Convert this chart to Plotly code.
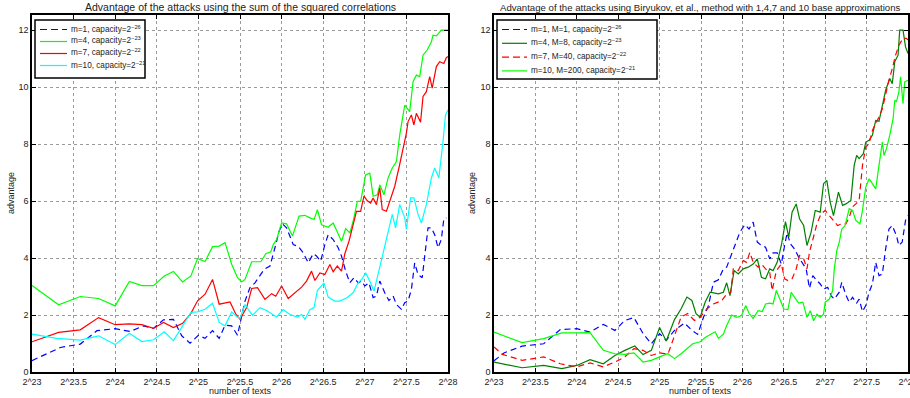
import plotly.graph_objects as go

# ---------------- data (x = log2 of number of texts) ----------------
tick_vals = [23, 23.5, 24, 24.5, 25, 25.5, 26, 26.5, 27, 27.5, 28]
tick_text = ["2^23", "2^23.5", "2^24", "2^24.5", "2^25", "2^25.5", "2^26", "2^26.5", "2^27", "2^27.5", "2^28"]
y_ticks = [0, 2, 4, 6, 8, 10, 12]

# Left panel: sum of squared correlations
L1_x = [23, 23.34, 23.58, 23.78, 24.0, 24.18, 24.34, 24.46, 24.58, 24.7, 24.8, 24.9, 25.0, 25.08, 25.17, 25.25, 25.32, 25.4, 25.47,
        25.56, 25.62, 25.68, 25.79, 25.86, 25.92, 25.97, 26.01, 26.06, 26.14, 26.2, 26.26, 26.32, 26.38, 26.42, 26.47, 26.52, 26.56,
        26.62, 26.68, 26.72, 26.77, 26.82, 26.87, 26.92, 26.96, 27.0, 27.05, 27.1, 27.14, 27.18, 27.24, 27.29, 27.34, 27.38, 27.44,
        27.48, 27.52, 27.56, 27.6, 27.64, 27.69, 27.73, 27.76, 27.8, 27.84, 27.88, 27.92, 27.95, 27.98]
L1_y = [0.4, 0.86, 0.98, 1.45, 1.52, 1.42, 1.62, 1.53, 1.83, 1.85, 1.27, 1.01, 1.29, 1.18, 1.45, 1.18, 1.64, 1.62, 1.29,
        2.49, 2.96, 3.13, 3.6, 3.72, 4.36, 4.94, 5.2, 5.06, 4.47, 4.41, 4.18, 3.83, 4.15, 4.07, 3.89, 4.47, 4.82,
        4.65, 4.36, 4.07, 3.54, 3.13, 3.31, 3.13, 3.19, 3.02, 3.13, 2.61, 2.67, 3.19, 2.78, 2.51, 2.67, 2.37, 2.2,
        2.43, 2.49, 2.9, 3.83, 3.42, 3.31, 4.36, 5.06, 5.06, 4.82, 4.36, 4.65, 5.38, 5.41]

L4_x = [23, 23.32, 23.58, 23.8, 24.0, 24.17, 24.32, 24.46, 24.59, 24.7, 24.81, 24.91, 24.99, 25.08, 25.17, 25.25, 25.32, 25.4, 25.47,
        25.52, 25.56, 25.64, 25.75, 25.81, 25.87, 25.9, 25.94, 26.0, 26.06, 26.13, 26.21, 26.28, 26.34, 26.39, 26.43, 26.48, 26.56,
        26.62, 26.72, 26.77, 26.82, 26.86, 26.91, 26.95, 27.01, 27.06, 27.1, 27.15, 27.18, 27.23, 27.28, 27.33, 27.38, 27.42, 27.48,
        27.54, 27.58, 27.62, 27.66, 27.7, 27.75, 27.8, 27.82, 27.86, 27.92, 28.0]
L4_y = [3.04, 2.36, 2.65, 2.58, 2.32, 3.18, 3.03, 3.03, 3.37, 3.53, 3.16, 3.37, 3.98, 3.88, 4.4, 4.42, 4.54, 3.78, 3.31,
        3.16, 3.25, 3.87, 3.87, 4.15, 4.22, 4.47, 4.65, 5.23, 5.2, 4.77, 5.47, 5.5, 5.41, 5.35, 5.7, 5.17, 5.08,
        5.23, 4.59, 5.03, 4.88, 5.29, 5.99, 5.99, 6.92, 6.98, 6.17, 6.22, 6.57, 6.22, 6.81, 7.16, 7.39, 8.32, 9.37,
        9.14, 10.19, 10.42, 10.37, 11.12, 11.3, 11.59, 11.82, 11.8, 12.0, 12.0]

L7_x = [23, 23.32, 23.58, 23.8, 24.0, 24.17, 24.32, 24.46, 24.58, 24.7, 24.81, 24.91, 24.99, 25.08, 25.17, 25.25, 25.38, 25.45, 25.5,
        25.58, 25.64, 25.71, 25.8, 25.88, 25.93, 26.0, 26.08, 26.14, 26.24, 26.3, 26.36, 26.4, 26.46, 26.52, 26.58, 26.62, 26.67,
        26.72, 26.76, 26.81, 26.86, 26.9, 26.95, 26.99, 27.03, 27.07, 27.1, 27.14, 27.18, 27.21, 27.26, 27.31, 27.36, 27.41, 27.46,
        27.5, 27.52, 27.56, 27.59, 27.62, 27.67, 27.7, 27.74, 27.78, 27.81, 27.86, 27.9, 27.95, 27.98, 28.0]
L7_y = [1.06, 1.39, 1.48, 1.91, 1.66, 1.69, 1.66, 1.53, 1.74, 1.56, 1.71, 2.06, 2.5, 2.73, 3.25, 2.38, 2.46, 2.03, 1.85,
        2.26, 2.93, 2.96, 2.55, 2.75, 2.66, 3.02, 2.58, 2.72, 2.98, 3.19, 3.54, 3.21, 3.48, 3.42, 3.77, 3.52, 3.72,
        3.54, 4.15, 4.59, 5.17, 5.64, 5.64, 6.17, 6.01, 5.93, 6.11, 5.87, 6.46, 5.7, 5.64, 6.05, 6.52, 7.16, 7.86,
        8.38, 8.79, 9.02, 8.67, 9.08, 8.77, 9.67, 9.84, 10.37, 9.96, 10.72, 10.89, 10.83, 11.03, 11.07]

L10_x = [23, 23.3, 23.58, 23.8, 24.0, 24.17, 24.32, 24.46, 24.59, 24.7, 24.81, 24.91, 24.99, 25.08, 25.17, 25.25, 25.32, 25.4, 25.46,
         25.5, 25.56, 25.65, 25.74, 25.82, 25.94, 26.02, 26.1, 26.19, 26.24, 26.28, 26.34, 26.39, 26.43, 26.51, 26.56, 26.64, 26.7,
         26.78, 26.86, 26.92, 26.97, 27.01, 27.06, 27.11, 27.15, 27.2, 27.24, 27.29, 27.33, 27.37, 27.42, 27.48, 27.5, 27.55, 27.59,
         27.64, 27.68, 27.74, 27.8, 27.84, 27.89, 27.94, 27.97, 28.0]
L10_y = [1.33, 1.18, 1.12, 1.27, 0.96, 1.36, 1.07, 1.13, 1.41, 1.1, 1.62, 2.09, 2.11, 2.2, 2.41, 1.74, 1.62, 2.11, 1.95,
         1.88, 2.37, 1.99, 2.26, 2.16, 1.93, 2.19, 2.02, 1.93, 2.02, 1.85, 2.19, 2.26, 2.86, 3.13, 2.63, 2.49, 2.49,
         2.6, 2.78, 3.13, 3.28, 3.48, 3.19, 2.84, 3.31, 3.95, 4.47, 5.0, 5.53, 5.06, 5.88, 5.41, 5.0, 6.11, 6.11,
         5.53, 5.23, 5.88, 6.81, 7.16, 6.81, 8.09, 9.02, 9.2]

# Right panel: Biryukov et al. method
R1_x = [23.0, 23.12, 23.34, 23.6, 23.8, 24.0, 24.16, 24.32, 24.46, 24.58, 24.69, 24.8, 24.9, 25.0, 25.08, 25.18, 25.3, 25.38, 25.46,
        25.53, 25.59, 25.65, 25.71, 25.77, 25.81, 25.85, 25.89, 25.93, 25.97, 26.03, 26.08, 26.13, 26.18, 26.23, 26.28, 26.33, 26.37,
        26.42, 26.47, 26.51, 26.54, 26.58, 26.63, 26.68, 26.73, 26.77, 26.81, 26.85, 26.9, 26.94, 26.98, 27.03, 27.07, 27.11, 27.17,
        27.2, 27.25, 27.29, 27.33, 27.38, 27.41, 27.45, 27.49, 27.53, 27.57, 27.61, 27.65, 27.69, 27.73, 27.77, 27.81, 27.86, 27.89,
        27.93, 27.97, 28.0]
R1_y = [0.39, 0.67, 0.91, 0.99, 1.49, 1.52, 1.4, 1.67, 1.46, 1.81, 1.91, 1.35, 0.99, 1.35, 1.11, 1.46, 1.72, 1.49, 1.32,
        1.92, 2.33, 3.15, 3.24, 3.62, 3.68, 3.99, 4.26, 4.56, 4.91, 5.17, 5.02, 5.26, 4.56, 4.44, 4.38, 3.97, 4.18,
        4.18, 3.79, 4.44, 4.88, 4.5, 4.32, 4.03, 3.79, 3.62, 2.94, 3.38, 3.21, 3.09, 2.91, 2.97, 2.68, 2.56, 2.8,
        3.15, 2.7, 2.45, 2.62, 2.42, 2.56, 2.12, 2.33, 2.8, 3.09, 3.85, 3.38, 3.44, 4.32, 5.02, 5.14, 4.79, 4.44,
        4.56, 5.32, 5.49]

R4_x = [23.0, 23.34, 23.6, 23.82, 24.0, 24.16, 24.32, 24.46, 24.58, 24.7, 24.8, 24.9, 25.0, 25.08, 25.18, 25.26, 25.33, 25.39, 25.44,
        25.49, 25.55, 25.61, 25.71, 25.77, 25.81, 25.85, 25.9, 25.95, 26.01, 26.07, 26.13, 26.18, 26.23, 26.28, 26.33, 26.37, 26.42,
        26.47, 26.52, 26.56, 26.6, 26.65, 26.69, 26.74, 26.78, 26.83, 26.88, 26.94, 26.98, 27.02, 27.06, 27.1, 27.16, 27.21, 27.25,
        27.31, 27.35, 27.38, 27.41, 27.46, 27.49, 27.53, 27.57, 27.61, 27.65, 27.69, 27.73, 27.78, 27.81, 27.84, 27.88, 27.9, 27.94,
        27.97, 28.0]
R4_y = [0.35, 0.15, 0.23, 0.12, 0.23, 0.43, 0.29, 0.58, 0.76, 0.91, 0.61, 0.76, 1.56, 1.09, 1.84, 2.22, 2.63, 2.51, 2.05,
        1.92, 2.45, 2.8, 2.74, 2.8, 3.13, 2.68, 3.56, 3.44, 3.62, 3.68, 3.79, 3.97, 3.32, 3.27, 3.62, 3.56, 3.85,
        4.44, 5.28, 4.73, 5.61, 5.9, 5.38, 5.14, 4.44, 4.91, 5.67, 5.61, 6.61, 6.72, 5.96, 5.49, 6.31, 5.85, 5.9,
        6.02, 7.25, 7.6, 7.49, 7.66, 8.07, 8.13, 8.31, 8.83, 8.8, 9.3, 9.89, 10.3, 10.12, 10.89, 11.12, 12.0, 12.0,
        11.41, 11.18]

R7_x = [23.0, 23.1, 23.34, 23.6, 23.8, 24.0, 24.16, 24.32, 24.46, 24.58, 24.69, 24.8, 24.9, 25.0, 25.1, 25.18, 25.26, 25.34, 25.42,
        25.49, 25.57, 25.65, 25.75, 25.81, 25.86, 25.89, 25.95, 26.01, 26.05, 26.09, 26.13, 26.19, 26.23, 26.28, 26.33, 26.36, 26.41,
        26.47, 26.51, 26.55, 26.6, 26.65, 26.69, 26.74, 26.78, 26.81, 26.85, 26.9, 26.95, 27.0, 27.05, 27.1, 27.15, 27.2, 27.25,
        27.29, 27.33, 27.37, 27.41, 27.45, 27.49, 27.53, 27.57, 27.61, 27.65, 27.69, 27.73, 27.77, 27.81, 27.85, 27.89, 27.94, 27.98,
        28.0]
R7_y = [0.88, 0.62, 0.41, 0.53, 0.29, 0.18, 0.32, 0.18, 0.35, 0.53, 0.82, 0.76, 0.58, 0.67, 0.62, 1.29, 1.93, 2.05, 1.81,
        1.92, 2.21, 2.39, 2.5, 2.74, 2.8, 3.62, 3.56, 3.91, 3.85, 4.2, 3.85, 3.68, 3.79, 3.62, 3.5, 2.86, 3.56,
        3.79, 3.27, 3.21, 3.27, 3.62, 4.09, 3.97, 3.62, 4.2, 4.67, 5.2, 5.55, 5.67, 5.49, 5.32, 5.14, 5.2, 5.2,
        5.43, 5.79, 5.9, 6.02, 7.25, 7.9, 8.01, 8.48, 8.72, 8.95, 9.24, 9.77, 10.24, 10.65, 11.12, 11.47, 11.71, 11.71,
        11.65]

R10_x = [23.0, 23.34, 23.6, 23.82, 24.0, 24.16, 24.32, 24.46, 24.58, 24.69, 24.8, 24.9, 25.0, 25.1, 25.18, 25.26, 25.4, 25.49, 25.55,
         25.61, 25.67, 25.71, 25.77, 25.81, 25.87, 25.93, 25.99, 26.04, 26.08, 26.13, 26.19, 26.24, 26.28, 26.33, 26.37, 26.41, 26.46,
         26.5, 26.55, 26.59, 26.63, 26.68, 26.73, 26.78, 26.82, 26.86, 26.9, 26.94, 26.98, 27.0, 27.05, 27.09, 27.11, 27.14, 27.17,
         27.2, 27.24, 27.29, 27.33, 27.37, 27.42, 27.45, 27.49, 27.53, 27.57, 27.61, 27.65, 27.69, 27.71, 27.74, 27.78, 27.82, 27.84,
         27.86, 27.89, 27.91, 27.94, 27.96, 28.0]
R10_y = [1.4, 1.03, 1.17, 1.37, 1.37, 1.38, 0.76, 0.64, 0.62, 0.67, 0.35, 0.41, 0.53, 0.64, 0.47, 0.64, 0.99, 1.06, 1.21,
         1.3, 1.41, 1.18, 1.33, 1.63, 2.0, 1.92, 1.98, 2.33, 2.06, 1.88, 2.15, 2.12, 2.39, 2.42, 2.39, 2.86, 2.5,
         2.21, 2.19, 2.8, 2.62, 2.42, 2.45, 1.92, 2.15, 1.8, 2.03, 1.92, 2.03, 2.45, 2.56, 2.86, 3.62, 4.26, 4.56,
         5.02, 5.14, 5.73, 5.67, 5.32, 5.2, 5.67, 6.49, 6.78, 6.61, 6.43, 7.25, 8.07, 7.6, 7.84, 8.31, 8.89, 9.54,
         9.48, 9.83, 10.36, 9.42, 10.18, 10.24]

# legend labels and titles
left_names = ["m=1, capacity=2<sup>\u221226</sup>", "m=4, capacity=2<sup>\u221223</sup>",
              "m=7, capacity=2<sup>\u221222</sup>", "m=10, capacity=2<sup>\u221221</sup>"]
right_names = ["m=1, M=1, capacity=2<sup>\u221226</sup>", "m=4, M=8, capacity=2<sup>\u221223</sup>",
               "m=7, M=40, capacity=2<sup>\u221222</sup>", "m=10, M=200, capacity=2<sup>\u221221</sup>"]
left_title = "Advantage of the attacks using the sum of the squared correlations"
right_title = "Advantage of the attacks using Biryukov, et al., method with 1,4,7 and 10 base approximations"
x_title = "number of texts"
y_title = "advantage"

# ---------------- figure ----------------
W, H = 910, 398
FONT = "Liberation Sans, Arial, Helvetica, sans-serif"
TXT = "#222222"
DASH = "6px,4px"
LEG_DASH = "7px,4px"

fig = go.Figure()

left_series = [(L1_x, L1_y, "#0000ff", DASH), (L4_x, L4_y, "#00ff00", "solid"),
               (L7_x, L7_y, "#ff0000", "solid"), (L10_x, L10_y, "#00ffff", "solid")]
right_series = [(R1_x, R1_y, "#0000ff", DASH), (R4_x, R4_y, "#007f00", "solid"),
                (R7_x, R7_y, "#ff0000", DASH), (R10_x, R10_y, "#00ff00", "solid")]

for (xs, ys, c, d), nm in zip(left_series, left_names):
    fig.add_trace(go.Scatter(x=xs, y=ys, mode="lines", name=nm, line=dict(color=c, width=1.2, dash=d),
                             xaxis="x", yaxis="y", showlegend=False))
for (xs, ys, c, d), nm in zip(right_series, right_names):
    fig.add_trace(go.Scatter(x=xs, y=ys, mode="lines", name=nm, line=dict(color=c, width=1.2, dash=d),
                             xaxis="x2", yaxis="y2", showlegend=False))

x_l0, x_l1 = 32 / W, 448 / W
x_r0, x_r1 = 494 / W, 908 / W
y0, y1 = 1 - 372 / H, 1 - 15 / H


def px_x(p):
    return p / W


def px_y(p):
    return 1 - p / H


axis_common = dict(showgrid=True, gridcolor="#9a9a9a", griddash="dot", gridwidth=1,
                   showline=True, linecolor="black", linewidth=1.5, mirror="ticks",
                   ticks="inside", ticklen=4, tickcolor="black", zeroline=False, automargin=False,
                   ticklabeloverflow="allow",
                   tickfont=dict(family=FONT, size=9, color=TXT))

fig.update_layout(
    width=W, height=H, margin=dict(l=0, r=0, t=0, b=0, autoexpand=False),
    paper_bgcolor="white", plot_bgcolor="white",
    font=dict(family=FONT, size=9, color=TXT),
    xaxis=dict(domain=[x_l0, x_l1], range=[23, 28], tickvals=tick_vals, ticktext=tick_text, anchor="y", **axis_common),
    yaxis=dict(domain=[y0, y1], range=[0, 12.53], tickvals=y_ticks, anchor="x", **axis_common),
    xaxis2=dict(domain=[x_r0, x_r1], range=[23, 28], tickvals=tick_vals, ticktext=tick_text, anchor="y2", **axis_common),
    yaxis2=dict(domain=[y0, y1], range=[0, 12.53], tickvals=y_ticks, anchor="x2", **axis_common),
    showlegend=False,
)

ann = []
shapes = []
ann.append(dict(text=left_title, x=(x_l0 + x_l1) / 2, y=px_y(7), xref="paper", yref="paper",
                showarrow=False, xanchor="center", yanchor="middle", font=dict(size=10.5)))
ann.append(dict(text=right_title, x=(x_r0 + x_r1) / 2, y=px_y(7), xref="paper", yref="paper",
                showarrow=False, xanchor="center", yanchor="middle", font=dict(size=9.6)))
for xc in [(x_l0 + x_l1) / 2, (x_r0 + x_r1) / 2]:
    ann.append(dict(text=x_title, x=xc, y=px_y(391), xref="paper", yref="paper",
                    showarrow=False, xanchor="center", yanchor="middle", font=dict(size=9)))
for xp in [11, 472]:
    ann.append(dict(text=y_title, x=px_x(xp), y=px_y(193), xref="paper", yref="paper", textangle=-90,
                    showarrow=False, xanchor="center", yanchor="middle", font=dict(size=9)))

# legend boxes (drawn as decorations in paper coordinates)
legends = [
    dict(box=(35, 20, 145, 78), line=(40, 67), text_x=69, row0=29.5, step=12, series=left_series, names=left_names),
    dict(box=(497, 20, 657, 79), line=(502, 527), text_x=529, row0=29.5, step=13.8, series=right_series, names=right_names),
]
for lg in legends:
    bx0, by0, bx1, by1 = lg["box"]
    shapes.append(dict(type="rect", xref="paper", yref="paper", x0=px_x(bx0), x1=px_x(bx1), y0=px_y(by0), y1=px_y(by1),
                       line=dict(color="black", width=1.5), fillcolor="white", layer="above"))
    for i, ((xs, ys, c, d), nm) in enumerate(zip(lg["series"], lg["names"])):
        ry = lg["row0"] + i * lg["step"]
        shapes.append(dict(type="line", xref="paper", yref="paper", x0=px_x(lg["line"][0]), x1=px_x(lg["line"][1]),
                           y0=px_y(ry), y1=px_y(ry), line=dict(color=c, width=1.2, dash=LEG_DASH if d != "solid" else "solid"),
                           layer="above"))
        ann.append(dict(text=nm, x=px_x(lg["text_x"]), y=px_y(ry - 1), xref="paper", yref="paper", showarrow=False,
                        xanchor="left", yanchor="middle", font=dict(size=8.2)))

fig.update_layout(annotations=ann, shapes=shapes)

fig.write_html("out.html", config={"displayModeBar": False},
               post_script="document.body.style.margin='0';document.body.style.overflow='hidden';")
